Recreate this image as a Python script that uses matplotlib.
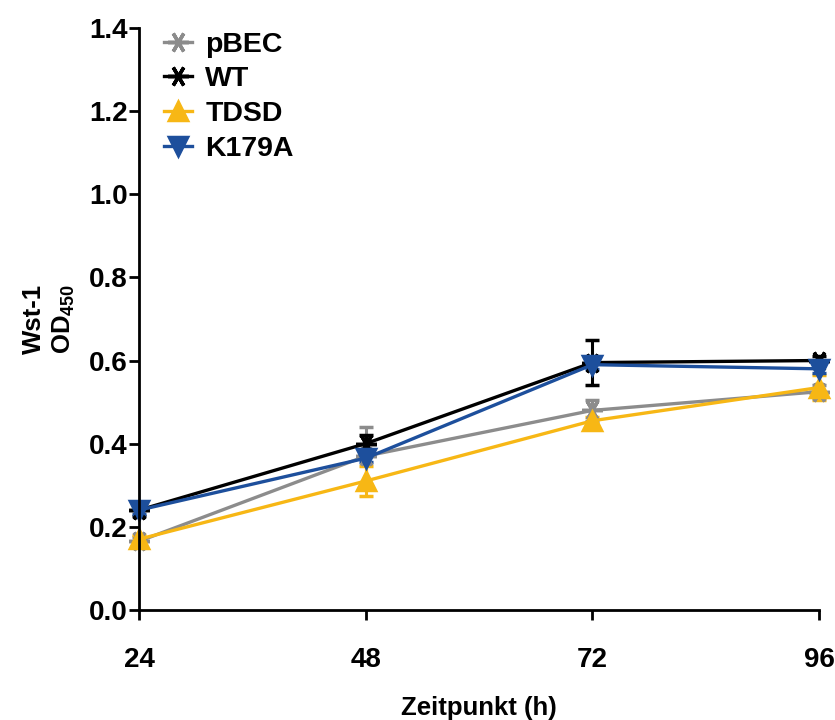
import numpy as np
import matplotlib.pyplot as plt
from matplotlib.lines import Line2D

plt.rcParams['font.family'] = ['Liberation Sans', 'DejaVu Sans']
plt.rcParams['font.weight'] = 'bold'
plt.rcParams['mathtext.fontset'] = 'custom'
plt.rcParams['mathtext.bf'] = 'Liberation Sans:bold'
plt.rcParams['mathtext.rm'] = 'Liberation Sans:bold'
plt.rcParams['mathtext.default'] = 'bf'

hours = [24, 48, 72, 96]

pbec = [0.165, 0.37, 0.48, 0.525]
pbec_err = [0.01, 0.07, 0.025, 0.015]
wt = [0.24, 0.40, 0.595, 0.60]
wt_err = [0.015, 0.02, 0.055, 0.01]
tdsd = [0.17, 0.31, 0.455, 0.535]
tdsd_err = [0.01, 0.035, 0.01, 0.03]
k179a = [0.24, 0.365, 0.59, 0.58]
k179a_err = [0.01, 0.01, 0.01, 0.01]

fig = plt.figure(figsize=(8.35, 7.2), dpi=100)
ax = fig.add_axes([0.1665, 0.153, 0.8145, 0.808])

star = (6, 2, 90)
series = [
    ('pBEC', pbec, pbec_err, '#8c8c8c', star, 15),
    ('WT', wt, wt_err, '#000000', star, 15),
    ('TDSD', tdsd, tdsd_err, '#f7b715', '^', 13),
    ('K179A', k179a, k179a_err, '#1d4f9c', 'v', 13),
]

handles = []
for name, vals, err, col, mk, ms in series:
    ax.errorbar(hours, vals, yerr=err, color=col, marker=mk, markersize=ms,
                markeredgewidth=2.5, linewidth=2.4, capsize=5, capthick=2.2,
                elinewidth=2.2, clip_on=False)
    handles.append(Line2D([], [], color=col, marker=mk, markersize=ms,
                          markeredgewidth=2.5, linewidth=2.4, label=name))

ax.set_xlim(24, 96)
ax.set_ylim(0, 1.4)
ax.set_xticks(hours)
ax.set_yticks(np.arange(0, 1.41, 0.2))
ax.set_yticklabels(['%.1f' % v for v in np.arange(0, 1.41, 0.2)])
ax.spines['top'].set_visible(False)
ax.spines['right'].set_visible(False)
ax.spines['left'].set_linewidth(2)
ax.spines['bottom'].set_linewidth(2)
ax.tick_params(axis='x', length=7.5, width=2, pad=19, labelsize=20)
ax.tick_params(axis='y', length=7.5, width=2, pad=0.5, labelsize=20)

ax.set_xlabel('Zeitpunkt (h)', fontsize=18.5, fontweight='bold', labelpad=17)
ax.set_ylabel('Wst-1\nOD$_{450}$', fontsize=18.5, fontweight='bold', labelpad=9)

ax.legend(handles=handles, loc='upper left', bbox_to_anchor=(0.02, 1.013),
          frameon=False, fontsize=20.5, handlelength=1.0, handletextpad=0.45,
          labelspacing=0.3, borderaxespad=0)

plt.savefig('out.png', dpi=100)
